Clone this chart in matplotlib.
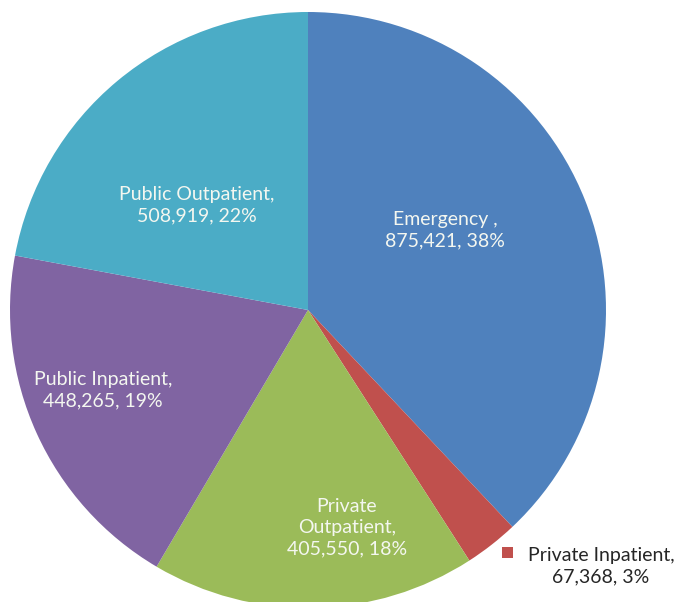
import matplotlib
matplotlib.use("Agg")
import matplotlib.pyplot as plt
from matplotlib.patches import Rectangle

categories = ["Emergency", "Private Inpatient", "Private Outpatient", "Public Inpatient", "Public Outpatient"]
values = [875421, 67368, 405550, 448265, 508919]
percents = ["38%", "3%", "18%", "19%", "22%"]
colors = ["#4F81BD", "#C0504D", "#9BBB59", "#8064A2", "#4BACC6"]
label_texts = [
    "Emergency ,\n875,421, 38%",
    "Private Inpatient,\n67,368, 3%",
    "Private\nOutpatient,\n405,550, 18%",
    "Public Inpatient,\n448,265, 19%",
    "Public Outpatient,\n508,919, 22%",
]

W, H = 678, 602
fig = plt.figure(figsize=(W / 100, H / 100), dpi=100)
ax = fig.add_axes([0, 0, 1, 1])

cx, cy, R = 308, 310, 298  # pixel layout
ax.pie(values, colors=colors, startangle=90, counterclock=False, radius=1,
       wedgeprops=dict(linewidth=0))
ax.set_xlim(-cx / R, (W - cx) / R)
ax.set_ylim(-(H - cy) / R, cy / R)
ax.set_aspect("auto")
ax.axis("off")

font = "Lato"
fs = 14
txt_color = "#F4F7F0"

def fx(x):
    return x / W

def fy(y):
    return 1 - y / H

inside_pos = {0: (445, 230), 2: (347, 528), 3: (103, 390), 4: (197, 205)}
for i, (px, py) in inside_pos.items():
    fig.text(fx(px), fy(py), label_texts[i], ha="center", va="center",
             color=txt_color, fontsize=fs, family=font, linespacing=1.3)

# outside label for Private Inpatient
fig.patches.append(Rectangle((fx(502), fy(558)), 11 / W, 11 / H,
                             transform=fig.transFigure, facecolor=colors[1],
                             edgecolor="none"))
fig.text(fx(601), fy(566), label_texts[1], ha="center", va="center",
         color="#262626", fontsize=fs, family=font, linespacing=1.3)

fig.savefig("out.png", dpi=100, facecolor="white")
